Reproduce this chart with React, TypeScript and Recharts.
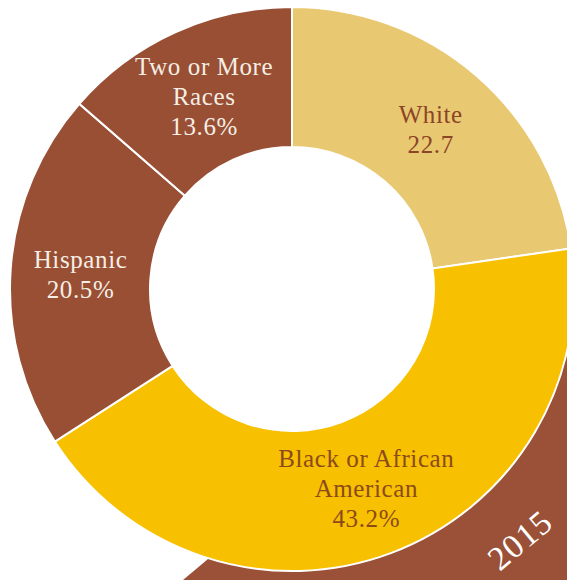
import React from "react";
import { PieChart, Pie, Cell } from "recharts";

const categories = ["White", "Black or African American", "Hispanic", "Two or More Races"];
const shares = [22.7, 43.2, 20.5, 13.6];
const labelLines = [
  ["White", "22.7"],
  ["Black or African", "American", "43.2%"],
  ["Hispanic", "20.5%"],
  ["Two or More", "Races", "13.6%"],
];
const sliceColors = ["#E9C872", "#F7C000", "#984F34", "#984F34"];
const labelColors = ["#8A4526", "#8C4A1C", "#F6EEE4", "#F6EEE4"];
const yearLabel = "2015";

const data = categories.map((name, i) => ({ name, value: shares[i] }));

const RAD = Math.PI / 180;
const FONT = "Liberation Serif, DejaVu Serif, serif";

const renderLabel = (props: any) => {
  const { cx, cy, midAngle, innerRadius, outerRadius } = props;
  let index = props.index;
  if (index === undefined || index === null) {
    index = categories.indexOf(props.name);
  }
  const r = (Number(innerRadius) + Number(outerRadius)) / 2;
  const x = cx + r * Math.cos(-midAngle * RAD);
  const y = cy + r * Math.sin(-midAngle * RAD);
  const lines = labelLines[index] || [];
  const lh = 30;
  const start = y - ((lines.length - 1) * lh) / 2;
  return (
    <text
      x={x}
      y={start}
      textAnchor="middle"
      dominantBaseline="central"
      fill={labelColors[index]}
      fontFamily={FONT}
      fontSize={25}
      letterSpacing={0.6}
      style={{ fontFamily: FONT }}
    >
      {lines.map((l, i) => (
        <tspan key={i} x={x} dy={i === 0 ? 0 : lh} fontFamily={FONT}>
          {l}
        </tspan>
      ))}
    </text>
  );
};

export default function App() {
  return (
    <div style={{ position: "absolute", left: 0, top: 0, width: 567, height: 580, background: "#ffffff", overflow: "hidden", fontFamily: FONT }}>
      <svg width={567} height={580} style={{ position: "absolute", left: 0, top: 0 }}>
        <polygon points="183,580 567,258 567,580" fill="#9A5137" />
        <text
          x={520}
          y={540}
          textAnchor="middle"
          dominantBaseline="central"
          fill="#ffffff"
          transform="rotate(-40 520 540)"
          fontFamily={FONT}
          fontSize={34}
          letterSpacing={1}
        >
          {yearLabel}
        </text>
      </svg>
      <div style={{ position: "absolute", left: 0, top: 0 }}>
        <PieChart width={567} height={580} margin={{ top: 0, right: 0, bottom: 0, left: 0 }}>
          <Pie
            data={data}
            dataKey="value"
            nameKey="name"
            cx={292}
            cy={289}
            innerRadius={142}
            outerRadius={282}
            startAngle={90}
            endAngle={-270}
            stroke="#ffffff"
            strokeWidth={2}
            label={renderLabel}
            labelLine={false}
            isAnimationActive={false}
          >
            {data.map((d, i) => (
              <Cell key={d.name} fill={sliceColors[i]} />
            ))}
          </Pie>
        </PieChart>
      </div>
    </div>
  );
}
